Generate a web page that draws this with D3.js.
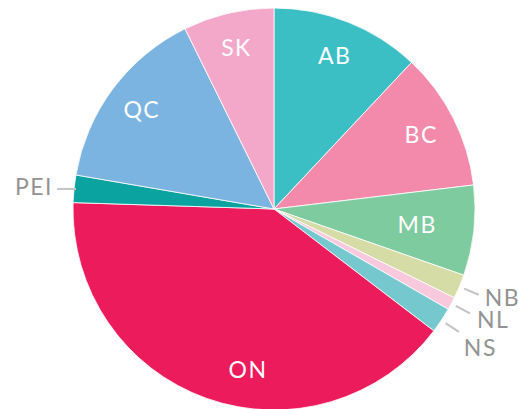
<!DOCTYPE html>
<html>
<head>
<meta charset="utf-8">
<script src="https://cdn.jsdelivr.net/npm/d3@7"></script>
<style>
  body { margin: 0; background: #fff; }
  svg { display: block; }
</style>
</head>
<body>
<div id="pie-chart"></div>
<script>
// provinces, clockwise from 12 o'clock
var provinces = ["AB", "BC", "MB", "NB", "NL", "NS", "ON", "PEI", "QC", "SK"];
var shares = [12.0, 11.1, 7.25, 1.94, 1.03, 2.06, 40.15, 2.2, 15.0, 7.3];
var sliceColors = ["#3cbfc4", "#f48aab", "#7fcba0", "#d6dca5", "#f8c8dc", "#76c8cf", "#ec1b5c", "#0ba39f", "#7bb4e1", "#f3a8ca"];
var outsideLabels = ["NB", "NL", "NS", "PEI"];

var width = 518,
    height = 409;
var cx = 274,
    cy = 209,
    radius = 201;

var data = provinces.map(function(p, i) {
  return { name: p, value: shares[i] };
});

var color = d3.scaleOrdinal()
  .domain(provinces)
  .range(sliceColors);

var svg = d3.select("#pie-chart")
  .append("svg")
    .attr("width", width)
    .attr("height", height);

var g = svg.append("g")
  .attr("transform", "translate(" + cx + "," + cy + ")");

var pie = d3.pie()
  .sort(null)
  .value(function(d) { return d.value; });

var arc = d3.arc()
  .innerRadius(0)
  .outerRadius(radius);

var arcs = pie(data);

g.selectAll("path")
  .data(arcs)
  .enter()
    .append("path")
    .attr("d", arc)
    .attr("fill", function(d) { return color(d.data.name); })
    .attr("stroke", "#fff")
    .attr("stroke-width", 0.8);

function polar(r, a) {
  return [r * Math.sin(a), -r * Math.cos(a)];
}
function midAngle(d) { return (d.startAngle + d.endAngle) / 2; }

// label tweaks so the text sits where the original put it
var insideTweak = {
  MB: { r: 144, da: 0 },
  ON: { r: 163, da: -10.4 }
};
var outsideTweak = {
  NB:  { dx: 6,  dy: 3 },
  NL:  { dx: 7,  dy: 7 },
  NS:  { dx: 5,  dy: 16 },
  PEI: { dx: -4, dy: -2 }
};

var inside = arcs.filter(function(d) { return outsideLabels.indexOf(d.data.name) < 0; });
var outside = arcs.filter(function(d) { return outsideLabels.indexOf(d.data.name) >= 0; });

g.selectAll("text.inside")
  .data(inside)
  .enter()
    .append("text")
    .attr("class", "inside")
    .attr("text-anchor", "middle")
    .attr("dy", "0.35em")
    .attr("transform", function(d) {
      var t = insideTweak[d.data.name] || { r: 165, da: 0 };
      var p = polar(t.r, midAngle(d) + t.da * Math.PI / 180);
      return "translate(" + p[0] + "," + p[1] + ")";
    })
    .attr("fill", "#fff")
    .style("font-family", "Lato, 'Open Sans', sans-serif")
    .style("font-size", "23px")
    .style("letter-spacing", "1.5px")
    .text(function(d) { return d.data.name; });

outside.forEach(function(d) {
  var t = outsideTweak[d.data.name];
  var a = midAngle(d);
  var p0 = polar(radius + 5, a),
      p1 = polar(radius + 21, a);
  var left = a > Math.PI;
  if (left) {
    p0 = polar(radius - 2, a);
    p1 = [p0[0] - 19, p0[1]];
  }
  g.append("line")
    .attr("x1", p0[0]).attr("y1", p0[1])
    .attr("x2", p1[0]).attr("y2", p1[1])
    .attr("stroke", "#c4c4c4")
    .attr("stroke-width", 2);
  g.append("text")
    .attr("x", p1[0] + t.dx)
    .attr("y", p1[1] + t.dy)
    .attr("dy", "0.35em")
    .attr("text-anchor", left ? "end" : "start")
    .attr("fill", "#939393")
    .style("font-family", "Lato, 'Open Sans', sans-serif")
    .style("font-size", "23px")
    .style("letter-spacing", "1.5px")
    .text(d.data.name);
});
</script>
</body>
</html>
